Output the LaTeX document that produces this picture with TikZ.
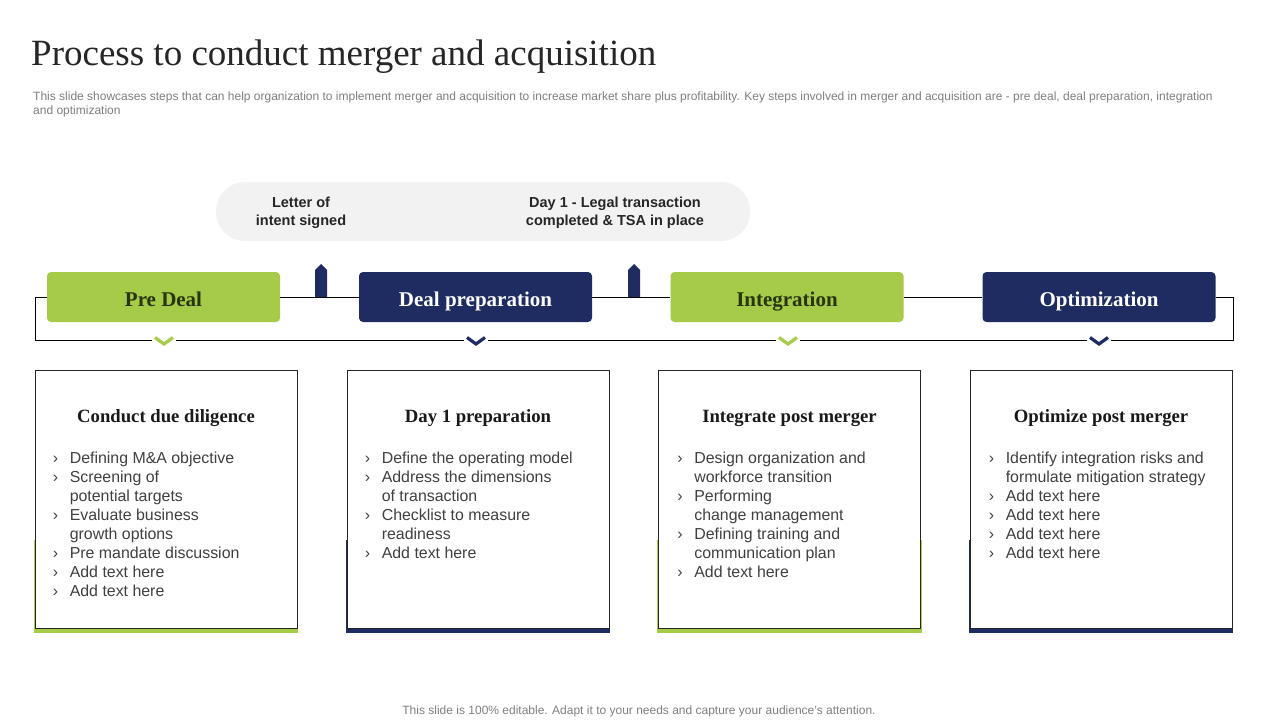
\documentclass[tikz,border=0pt]{standalone}
\usepackage{fontspec}
\setmainfont{Liberation Serif}
\setsansfont{Liberation Sans}
\usetikzlibrary{calc,backgrounds}

\definecolor{leaf}{HTML}{A5CB48}
\definecolor{ink}{HTML}{1F2C62}
\definecolor{moss}{HTML}{28350E}
\definecolor{pillgray}{HTML}{F2F2F2}
\definecolor{body}{HTML}{404040}
\definecolor{note}{HTML}{7F7F7F}

\newcommand\bul{\makebox[17pt][l]{›}}
\newcommand\cnt{\hspace*{17pt}}

\tikzset{
  phase/.style={minimum width=233pt, minimum height=50pt, rounded corners=4pt, inner sep=0pt,
    text height=20pt, text depth=2pt, font=\fontsize{21}{24}\selectfont\bfseries},
  card/.style={draw=black!85, fill=white, line width=0.8pt, minimum width=262pt,
    minimum height=258pt, inner sep=0pt},
  cardhead/.style={font=\fontsize{18.7}{22}\selectfont\bfseries, text=black!90,
    text height=13pt, text depth=4pt},
  cardlist/.style={anchor=north west, align=left, inner sep=0pt, text=body,
    font=\sffamily\fontsize{15.9}{19}\selectfont},
  milestone/.style={font=\sffamily\bfseries\fontsize{14.5}{18}\selectfont, align=center, text=black!85},
  chev/.style={line width=3.2pt},
}

\begin{document}
\begin{tikzpicture}[x=1pt, y=-1pt]
  \useasboundingbox (0,0) rectangle (1280,720);

  \node[anchor=base west, font=\fontsize{37}{40}\selectfont, text=black!85, inner sep=0pt] (title) at (31,65)
    {Process to conduct merger and acquisition};
  \node[anchor=north west, align=left, inner sep=0pt, text=note, font=\sffamily\fontsize{12}{14}\selectfont] (intro) at (33,92)
    {This slide showcases steps that can help organization to implement merger and acquisition to increase market share plus profitability. Key steps involved in merger and acquisition are - pre deal, deal preparation, integration\\and optimization};

  \node[fill=pillgray, rounded corners=29pt, minimum width=534pt, minimum height=59pt] (pill) at (483,211.5) {};
  \node[milestone] (loi) at (301,213) {Letter of\\intent signed};
  \node[milestone] (dayone) at (615,213) {Day 1 - Legal transaction\\completed \& TSA in place};

  \foreach \x in {321,634}
    \fill[ink] ({\x-6},297) -- ({\x-6},270) -- (\x,264) -- ({\x+6},270) -- ({\x+6},297) -- cycle;

  \node[phase, fill=leaf, text=moss] (pre) at (163.5,297) {Pre Deal};
  \node[phase, fill=ink, text=white] (prep) at (475.5,297) {Deal preparation};
  \node[phase, fill=leaf, text=moss] (integ) at (787,297) {Integration};
  \node[phase, fill=ink, text=white] (optim) at (1099,297) {Optimization};

  \draw[line width=0.9pt] (pre.west) -- (35,297) -- (35,340) -- (1233,340) -- (1233,297) -- (optim.east);
  \draw[line width=0.9pt] (pre.east) -- (prep.west) (prep.east) -- (integ.west) (integ.east) -- (optim.west);

  \foreach \x/\c in {164/leaf,476/ink,788/leaf,1099/ink}{
    \fill[white] ({\x-12},336) rectangle ({\x+12},348);
    \draw[chev, \c] ({\x-9},337.5) -- (\x,344) -- ({\x+9},337.5);
  }

  \node[card] (c1) at (166,499) {};
  \node[card] (c2) at (478,499) {};
  \node[card] (c3) at (789.5,499) {};
  \node[card] (c4) at (1101,499) {};

  \begin{scope}[on background layer]
    \fill[white] (0,0) rectangle (1280,720);
    \foreach \n/\c in {c1/leaf,c2/ink,c3/leaf,c4/ink}
      \fill[\c] ($(\n.south west)+(-1,5)$) rectangle ($(\n.south east)+(1,-88)$);
  \end{scope}

  \node[cardhead] (h1) at ($(c1.north)+(0,48.5)$) {Conduct due diligence};
  \node[cardhead] (h2) at ($(c2.north)+(0,48.5)$) {Day 1 preparation};
  \node[cardhead] (h3) at ($(c3.north)+(0,48.5)$) {Integrate post merger};
  \node[cardhead] (h4) at ($(c4.north)+(0,48.5)$) {Optimize post merger};

  \node[cardlist] (l1) at ($(c1.north west)+(18,82)$)
    {\bul Defining M\&A objective\\\bul Screening of\\\cnt potential targets\\\bul Evaluate business\\\cnt growth options\\\bul Pre mandate discussion\\\bul Add text here\\\bul Add text here};
  \node[cardlist] (l2) at ($(c2.north west)+(18,82)$)
    {\bul Define the operating model\\\bul Address the dimensions\\\cnt of transaction\\\bul Checklist to measure\\\cnt readiness\\\bul Add text here};
  \node[cardlist] (l3) at ($(c3.north west)+(19,82)$)
    {\bul Design organization and\\\cnt workforce transition\\\bul Performing\\\cnt change management\\\bul Defining training and\\\cnt communication plan\\\bul Add text here};
  \node[cardlist] (l4) at ($(c4.north west)+(19,82)$)
    {\bul Identify integration risks and\\\cnt formulate mitigation strategy\\\bul Add text here\\\bul Add text here\\\bul Add text here\\\bul Add text here};

  \node[text=note, font=\sffamily\fontsize{12}{14}\selectfont] (foot) at (639,711)
    {This slide is 100\% editable. Adapt it to your needs and capture your audience's attention.};
\end{tikzpicture}
\end{document}
